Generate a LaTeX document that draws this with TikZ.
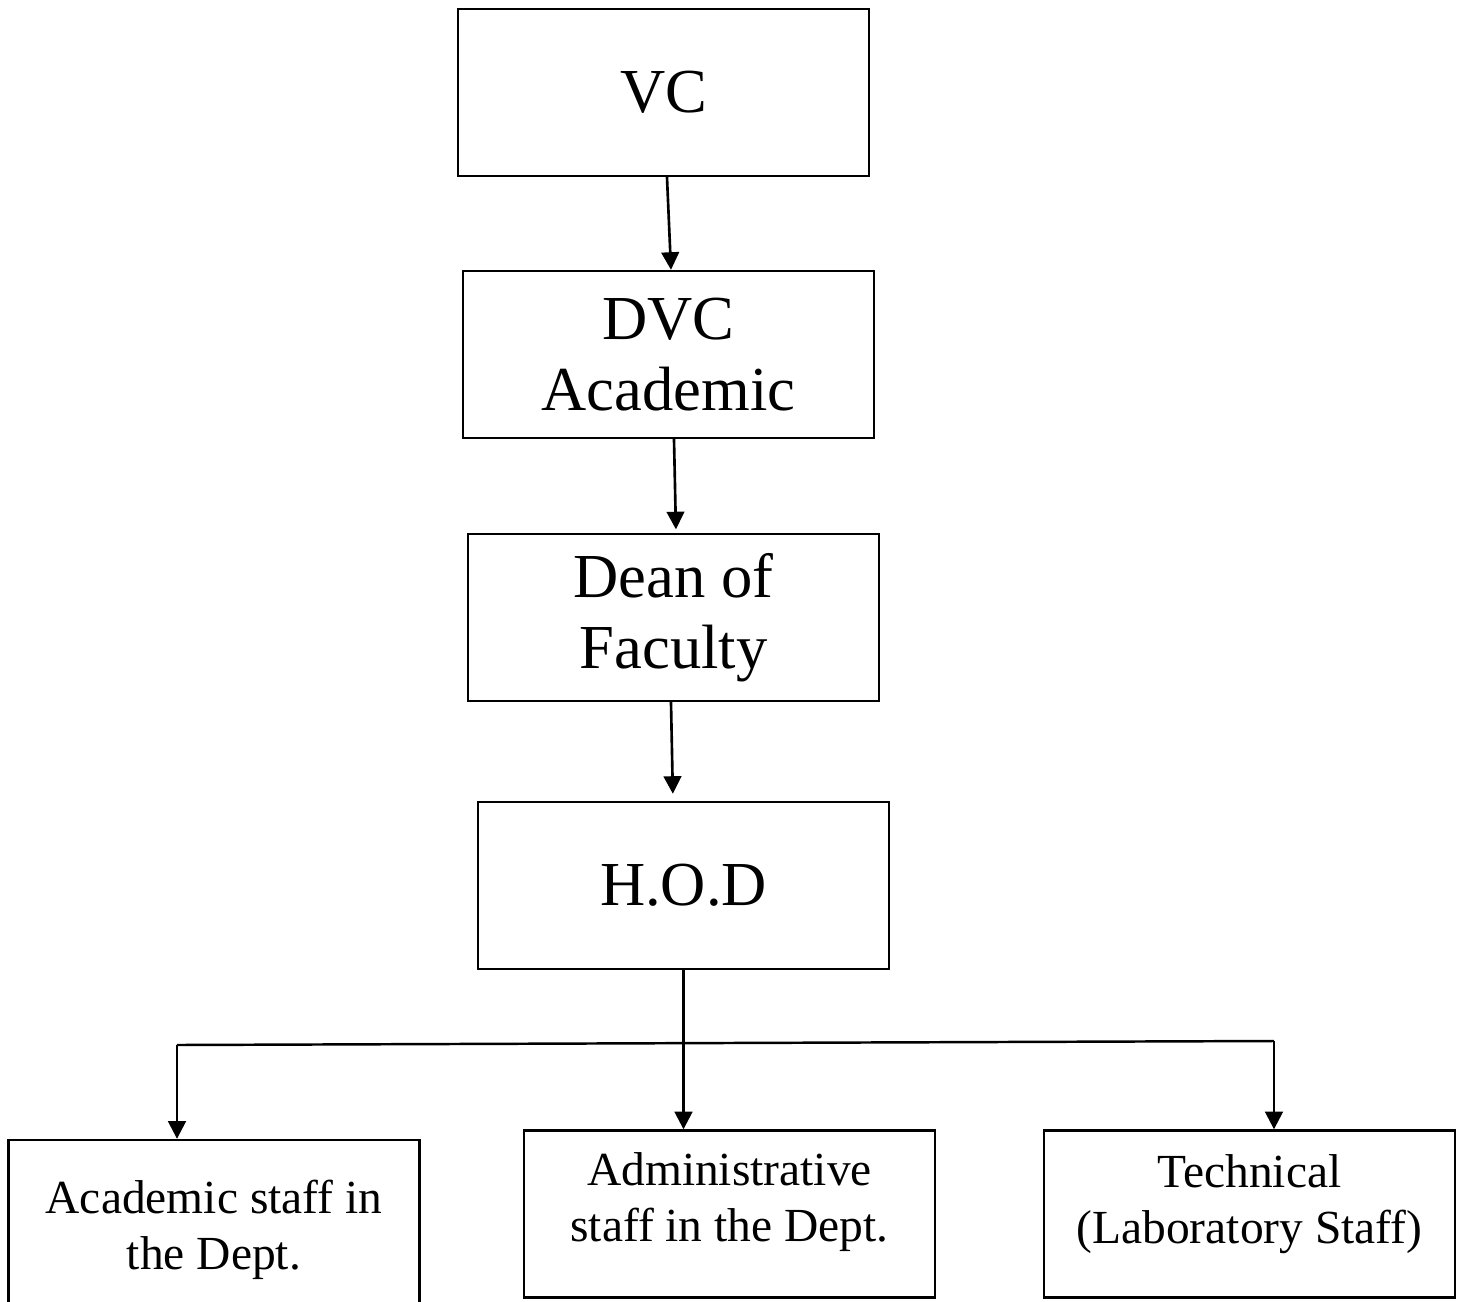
\documentclass[tikz,border=0pt]{standalone}
\usepackage{fontspec}
\setmainfont{Liberation Serif}
\usetikzlibrary{arrows.meta}
\begin{document}
\begin{tikzpicture}[x=0.01cm, y=-0.01cm,
  post/.style={rectangle, draw=black, fill=white, line width=0.65pt, minimum width=4.11cm, minimum height=1.67cm, align=center},
  big/.style={font=\fontsize{17.8}{20.2}\selectfont},
  small/.style={font=\fontsize{13.5}{15.9}\selectfont, align=center},
  link/.style={line width=0.75pt, -{Triangle[length=5pt,width=5pt]}}]
\useasboundingbox (0,0) rectangle (1462,1302);
\node [post, big](VC) at (663.5,92.5){VC};
\node [post, big](DVC) at (668.5,354.5){DVC\\Academic};
\node [post, big](DEAN) at (673.5,617.5){Dean of\\Faculty};
\node [post, big](HOD) at (683.5,885.5){H.O.D};
\node [post](ACD) at (214,1223.5){};
\node [post](ADM) at (729.5,1214){};
\node [post](TEC) at (1249.5,1214){};
\draw node (ACDtext) at (214,1230) [small] {Academic staff in\\the Dept.};
\draw node (ADMtext) at (729.5,1202) [small] {Administrative\\staff in the Dept.};
\draw node (TECtext) at (1249.5,1204) [small] {Technical\\(Laboratory Staff)};
\draw [link]([xshift=0.035cm]VC.south) -- ([xshift=0.025cm]DVC.north);
\draw [link, shorten >=1pt]([xshift=0.055cm]DVC.south) -- ([xshift=0.025cm]DEAN.north);
\draw [link, shorten >=2pt]([xshift=-0.025cm]DEAN.south) -- ([xshift=-0.105cm]HOD.north);
\coordinate (busL) at (177,1045);
\coordinate (busR) at (1274,1041);
\draw [line width=0.7pt](busL) -- (busR);
\draw [link](HOD.south) -- (HOD.south |- ADM.north);
\draw [link](busL) -- (busL |- ACD.north);
\draw [link](busR) -- (busR |- TEC.north);
\end{tikzpicture}
\end{document}
